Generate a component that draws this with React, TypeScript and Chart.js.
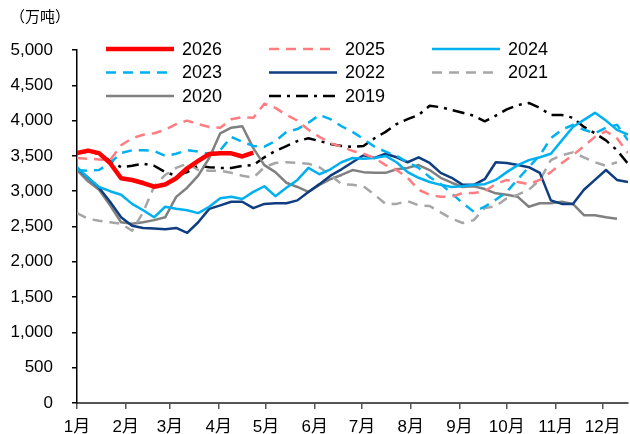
import React, { useEffect, useRef } from "react";
import { Chart, registerables } from "chart.js";

Chart.register(...registerables);

const seriesNames = ["2026", "2025", "2024", "2023", "2022", "2021", "2020", "2019"];

const y2026 = [3540, 3575, 3540, 3400, 3183, 3159, 3116, 3064, 3095, 3183, 3325, 3428, 3527, 3537, 3537, 3492, 3545];
const y2025 = [3470, 3460, 3450, 3440, 3650, 3750, 3800, 3820, 3870, 3950, 4000, 3950, 3910, 3900, 4020, 4050, 4040, 4240, 4180, 4080, 4000, 3870, 3770, 3680, 3630, 3570, 3530, 3470, 3370, 3300, 3190, 3020, 2950, 2920, 2920, 2975, 2975, 3000, 3100, 3160, 3130, 3100, 3160, 3270, 3400, 3510, 3640, 3770, 3850, 3750, 3540];
const y2024 = [3340, 3190, 3060, 3000, 2950, 2820, 2730, 2630, 2780, 2750, 2730, 2690, 2780, 2900, 2920, 2890, 2990, 3070, 2930, 3050, 3160, 3330, 3240, 3310, 3410, 3470, 3460, 3470, 3500, 3410, 3270, 3190, 3130, 3090, 3060, 3070, 3090, 3100, 3160, 3270, 3370, 3440, 3480, 3530, 3720, 3910, 4010, 4110, 4000, 3870, 3800];
const y2023 = [3300, 3290, 3300, 3400, 3540, 3580, 3580, 3570, 3500, 3530, 3580, 3560, 3530, 3580, 3770, 3700, 3640, 3630, 3710, 3840, 3880, 3970, 4080, 4020, 3920, 3840, 3740, 3630, 3560, 3500, 3410, 3330, 3200, 3100, 2970, 2830, 2710, 2780, 2880, 2990, 3170, 3340, 3510, 3750, 3870, 3940, 3870, 3820, 3900, 3940, 3720];
const y2022 = [3330, 3190, 3050, 2850, 2630, 2510, 2480, 2470, 2460, 2480, 2410, 2560, 2750, 2800, 2850, 2850, 2760, 2820, 2830, 2830, 2870, 2990, 3100, 3220, 3310, 3410, 3510, 3470, 3530, 3480, 3410, 3480, 3400, 3260, 3190, 3090, 3090, 3170, 3410, 3400, 3370, 3340, 3260, 2870, 2820, 2820, 3020, 3160, 3300, 3160, 3130];
const y2021 = [2690, 2610, 2580, 2560, 2540, 2440, 2700, 3070, 3230, 3330, 3390, 3300, 3290, 3290, 3260, 3220, 3190, 3340, 3400, 3410, 3400, 3390, 3340, 3230, 3100, 3090, 3070, 2950, 2820, 2820, 2860, 2800, 2790, 2700, 2610, 2550, 2590, 2760, 2790, 2900, 2950, 3020, 3160, 3440, 3510, 3550, 3480, 3410, 3360, 3410];
const y2020 = [3300, 3140, 3020, 2800, 2560, 2540, 2560, 2590, 2630, 2920, 3050, 3220, 3470, 3820, 3900, 3920, 3610, 3370, 3270, 3120, 3060, 2990, 3090, 3170, 3230, 3300, 3270, 3260, 3260, 3310, 3330, 3370, 3300, 3190, 3120, 3060, 3070, 3030, 2970, 2950, 2920, 2780, 2830, 2830, 2850, 2820, 2660, 2660, 2630, 2610];
const y2019 = [3540, 3560, 3530, 3430, 3340, 3360, 3390, 3360, 3270, 3220, 3270, 3360, 3340, 3330, 3330, 3360, 3370, 3480, 3570, 3640, 3710, 3750, 3710, 3670, 3640, 3630, 3640, 3750, 3840, 3950, 4020, 4080, 4210, 4190, 4150, 4110, 4070, 3990, 4070, 4160, 4220, 4250, 4180, 4080, 4080, 4040, 3910, 3820, 3720, 3580, 3390];

const monthStarts = [0, 31, 59, 90, 120, 151, 181, 212, 243, 273, 304, 334];
const monthLabels = ["1月", "2月", "3月", "4月", "5月", "6月", "7月", "8月", "9月", "10月", "11月", "12月"];
const yTicks = [0, 500, 1000, 1500, 2000, 2500, 3000, 3500, 4000, 4500, 5000];
const unitLabel = "（万吨）";

const FONT = "'Liberation Sans', Arial, 'Noto Sans CJK SC', sans-serif";

const styles = [
  { color: "#FF0000", width: 4.5, dash: [] as number[] },
  { color: "#FF7C80", width: 2.5, dash: [10, 7] },
  { color: "#00B0F0", width: 2.5, dash: [] },
  { color: "#00B0F0", width: 2.5, dash: [10, 7] },
  { color: "#0E3D80", width: 2.5, dash: [] },
  { color: "#A6A6A6", width: 2.5, dash: [10, 7] },
  { color: "#808080", width: 2.5, dash: [] },
  { color: "#000000", width: 2.5, dash: [12, 6, 3, 6] },
];

const allSeries = [y2026, y2025, y2024, y2023, y2022, y2021, y2020, y2019];

const legendPlugin = {
  id: "customLegend",
  afterDraw(chart: any) {
    const ctx = chart.ctx;
    ctx.save();
    ctx.fillStyle = "#000";
    ctx.font = "15px 'Noto Sans CJK SC', sans-serif";
    ctx.textBaseline = "middle";
    ctx.textAlign = "left";
    ctx.fillText(unitLabel, 10, 16);
    ctx.font = "18px " + FONT;
    chart.data.datasets.forEach((ds: any, i: number) => {
      const col = i % 3;
      const row = Math.floor(i / 3);
      const x0 = 106 + col * 163;
      const y = 49 + row * 23.5;
      ctx.beginPath();
      ctx.setLineDash(ds.borderDash || []);
      ctx.lineDashOffset = 0;
      ctx.strokeStyle = ds.borderColor;
      ctx.lineWidth = ds.borderWidth;
      ctx.moveTo(x0, y);
      ctx.lineTo(x0 + 68, y);
      ctx.stroke();
      ctx.setLineDash([]);
      ctx.fillStyle = "#000";
      ctx.textBaseline = "middle";
      ctx.fillText(ds.label, x0 + 76, y + 1);
    });
    ctx.restore();
  },
};

export default function App() {
  const ref = useRef<HTMLCanvasElement | null>(null);
  useEffect(() => {
    document.body.style.margin = "0";
    if (!ref.current) return;
    const datasets = allSeries.map((arr, i) => ({
      label: seriesNames[i],
      data: arr.map((v, k) => ({ x: k * 7, y: v })),
      borderColor: styles[i].color,
      backgroundColor: styles[i].color,
      borderWidth: styles[i].width,
      borderDash: styles[i].dash,
      pointRadius: 0,
      tension: 0,
      fill: false,
      borderJoinStyle: "round" as const,
    }));
    const chart = new Chart(ref.current, {
      type: "line",
      data: { datasets },
      options: {
        animation: false,
        responsive: false,
        devicePixelRatio: 1,
        layout: { padding: { left: 0, top: 50, right: 2, bottom: 0 } },
        plugins: { legend: { display: false }, tooltip: { enabled: false }, title: { display: false } },
        scales: {
          x: {
            type: "linear",
            min: 0,
            max: 350,
            afterBuildTicks: (scale: any) => {
              scale.ticks = monthStarts.map((v) => ({ value: v }));
            },
            afterFit: (scale: any) => {
              scale.height = 31;
            },
            ticks: {
              autoSkip: false,
              maxRotation: 0,
              padding: 8,
              color: "#000",
              font: { size: 17, family: FONT },
              callback: (v: any) => {
                const idx = monthStarts.indexOf(Number(v));
                return idx >= 0 ? monthLabels[idx] : "";
              },
            },
            grid: { display: true, drawOnChartArea: false, tickLength: 6, color: "#555555", lineWidth: 1.5 },
            border: { display: true, color: "#555555", width: 2 },
          },
          y: {
            min: 0,
            max: 5000,
            afterBuildTicks: (scale: any) => {
              scale.ticks = yTicks.map((v) => ({ value: v }));
            },
            afterFit: (scale: any) => {
              scale.width = 77;
            },
            ticks: {
              padding: 19,
              color: "#000",
              font: { size: 17, family: FONT },
              callback: (v: any) => Number(v).toLocaleString("en-US"),
            },
            grid: { display: true, drawOnChartArea: false, tickLength: 5, color: "#000", lineWidth: 1.5 },
            border: { display: true, color: "#000", width: 1.5 },
          },
        },
      },
      plugins: [legendPlugin],
    });
    return () => chart.destroy();
  }, []);
  return (
    <div style={{ width: 630, height: 434 }}>
      <canvas ref={ref} width={630} height={434} style={{ display: "block" }} />
    </div>
  );
}
